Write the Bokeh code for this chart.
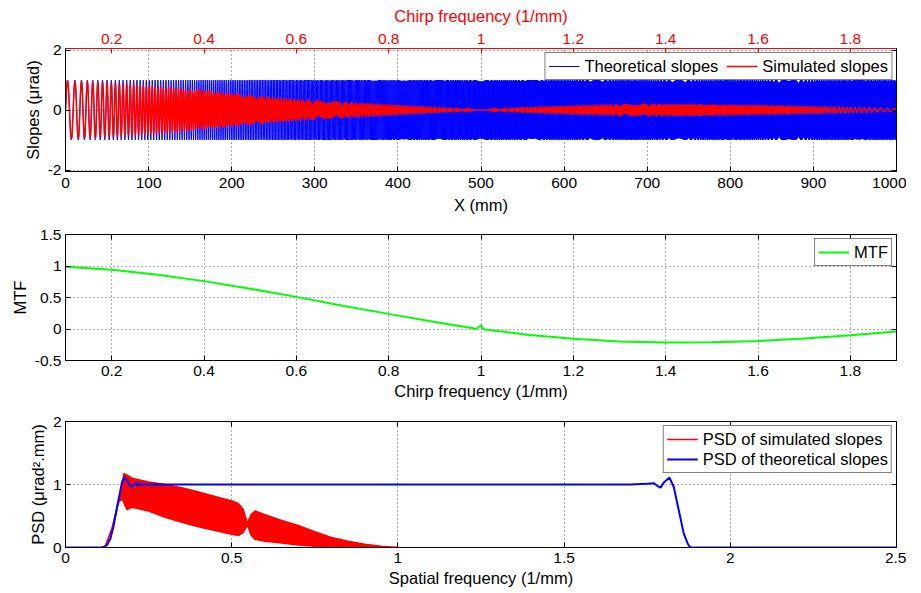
import numpy as np
from bokeh.plotting import figure
from bokeh.models import (Range1d, LinearAxis, FixedTicker, Legend, LegendItem,
                          CustomJSTickFormatter)
from bokeh.layouts import column
from bokeh.embed import file_html
from bokeh.resources import INLINE

# ---------------- data ----------------
# Top panel: chirp slopes along X
x_length_mm = 1000.0
chirp_f_start = 0.1          # 1/mm at X = 0
chirp_f_end = 1.9            # 1/mm at X = 1000
theo_amplitude = 1.0         # urad
theo_step_mm = 0.1
sim_step_mm = 0.5
# envelope (amplitude) of the simulated slopes read along X
sim_env_x = [0, 50, 100, 150, 200, 250, 300, 350, 400, 450, 500,
             550, 600, 650, 700, 750, 800, 850, 900, 950, 1000]
sim_env_amp = [0.98, 0.92, 0.83, 0.72, 0.58, 0.44, 0.33, 0.26, 0.18, 0.10, 0.04,
               0.10, 0.15, 0.19, 0.21, 0.21, 0.18, 0.16, 0.13, 0.09, 0.05]
x_ticks = [0, 100, 200, 300, 400, 500, 600, 700, 800, 900, 1000]
slope_ticks = [-2, 0, 2]
chirp_ticks = [0.2, 0.4, 0.6, 0.8, 1.0, 1.2, 1.4, 1.6, 1.8]

# Middle panel: MTF vs chirp frequency
mtf_freq = [0.1, 0.2, 0.3, 0.4, 0.5, 0.6, 0.7, 0.8, 0.9, 0.99, 1.0, 1.005,
            1.1, 1.2, 1.3, 1.4, 1.5, 1.6, 1.7, 1.8, 1.9]
mtf_val = [0.99, 0.94, 0.86, 0.76, 0.64, 0.51, 0.37, 0.24, 0.11, 0.005, 0.06, -0.003,
           -0.09, -0.155, -0.20, -0.215, -0.21, -0.19, -0.15, -0.10, -0.04]
mtf_ticks = [-0.5, 0, 0.5, 1, 1.5]

# Bottom panel: PSDs vs spatial frequency
psd_theo_f = [0, 0.113, 0.125, 0.135, 0.145, 0.155, 0.163, 0.17, 0.178, 0.19, 0.197,
              0.205, 0.21, 0.218, 0.225, 0.232, 0.24, 0.25, 0.26, 0.28,
              1.70, 1.75, 1.77, 1.78, 1.79, 1.80, 1.817, 1.83, 1.845, 1.86,
              1.872, 1.88, 2.5]
psd_theo_v = [0, 0, 0.04, 0.14, 0.35, 0.64, 0.85, 1.04, 1.12, 1.02, 0.96,
              0.99, 1.03, 0.98, 1.02, 0.99, 1.01, 0.99, 1.005, 1.0,
              1.0, 1.01, 1.02, 0.98, 0.95, 1.03, 1.11, 0.96, 0.59, 0.22,
              0.06, 0.0, 0.0]
psd_sim_f = [0.11, 0.12, 0.14, 0.16, 0.17, 0.175, 0.185, 0.2, 0.25, 0.3, 0.35, 0.4,
             0.45, 0.5, 0.52, 0.535, 0.547, 0.558, 0.57, 0.6, 0.65, 0.7, 0.75,
             0.8, 0.85, 0.9, 0.95, 1.0]
psd_sim_upper = [0, 0.02, 0.3, 0.75, 0.95, 1.17, 1.15, 1.1, 1.04, 1.0, 0.95, 0.88,
                 0.81, 0.74, 0.70, 0.60, 0.38, 0.52, 0.58, 0.52, 0.43, 0.35, 0.25,
                 0.16, 0.1, 0.05, 0.02, 0.0]
psd_sim_lower = [0, 0.02, 0.3, 0.72, 0.78, 0.72, 0.6, 0.64, 0.58, 0.48, 0.4, 0.33,
                 0.27, 0.21, 0.19, 0.24, 0.36, 0.2, 0.13, 0.1, 0.07, 0.04, 0.02,
                 0.01, 0.0, 0.0, 0.0, 0.0]
psd_x_ticks = [0, 0.5, 1, 1.5, 2, 2.5]
psd_y_ticks = [0, 1, 2]

# ---------------- derived signals ----------------
k_rate = (chirp_f_end - chirp_f_start) / x_length_mm
xb = np.arange(0, x_length_mm + theo_step_mm / 2, theo_step_mm)
yb = theo_amplitude * np.sin(2 * np.pi * (chirp_f_start * xb + 0.5 * k_rate * xb ** 2))
xr = np.arange(0, x_length_mm + sim_step_mm / 2, sim_step_mm)
yr = np.interp(xr, sim_env_x, sim_env_amp) * np.sin(
    2 * np.pi * (chirp_f_start * xr + 0.5 * k_rate * xr ** 2))

# ---------------- styling helpers ----------------
FONT = "Liberation Sans"
TICK_FS = "15.5px"
LABEL_FS = "16.5px"
fmt_code = "return (Math.round(tick*100)/100).toString()"


def style_axis(ax, ticks, show_labels=True, color="black", tick_sd=4, label_sd=3):
    ax.ticker = FixedTicker(ticks=ticks)
    ax.major_tick_in = 5
    ax.major_tick_out = 0
    ax.minor_tick_line_color = None
    ax.axis_line_color = color
    ax.major_tick_line_color = color
    ax.major_label_text_color = color
    ax.major_label_text_font = FONT
    ax.major_label_text_font_size = TICK_FS
    ax.major_label_standoff = tick_sd
    ax.axis_label_text_font = FONT
    ax.axis_label_text_font_size = LABEL_FS
    ax.axis_label_text_font_style = "normal"
    ax.axis_label_text_color = color
    ax.axis_label_standoff = label_sd
    if show_labels:
        ax.formatter = CustomJSTickFormatter(code=fmt_code)
    else:
        ax.formatter = CustomJSTickFormatter(code="return ''")
        ax.major_label_standoff = 0
        ax.major_label_text_font_size = "0px"


def make_fig(xr_, yr_, height, top, bottom):
    p = figure(width=906, height=height, x_range=xr_, y_range=yr_,
               output_backend="svg", toolbar_location=None,
               min_border_left=65, min_border_right=10,
               min_border_top=top, min_border_bottom=bottom)
    p.outline_line_color = "black"
    p.outline_line_width = 1
    p.background_fill_color = "white"
    p.border_fill_color = "white"
    for g in (p.xgrid, p.ygrid):
        g.grid_line_color = "#333333"
        g.grid_line_alpha = 0.8
        g.grid_line_dash = "1 3"
        g.grid_line_width = 1
    return p


def style_legend(lg):
    lg.border_line_color = "black"
    lg.border_line_width = 1
    lg.background_fill_color = "white"
    lg.background_fill_alpha = 1
    lg.label_text_font = FONT
    lg.label_text_font_size = LABEL_FS
    lg.label_text_color = "black"
    lg.glyph_width = 31
    lg.label_standoff = 5
    lg.padding = 3
    lg.margin = 4
    lg.location = "top_right"


# ---------------- top panel ----------------
p1 = make_fig(Range1d(0, 1000), Range1d(-2.05, 2.05), 224, 48, 53)
p1.extra_x_ranges = {"chirp": Range1d(chirp_f_start, chirp_f_end)}
style_axis(p1.xaxis[0], x_ticks, tick_sd=6, label_sd=5)
p1.xaxis[0].axis_label = "X (mm)"
style_axis(p1.yaxis[0], slope_ticks)
p1.yaxis[0].axis_label = "Slopes (\u03bcrad)"
top_ax = LinearAxis(x_range_name="chirp", axis_label="Chirp frequency (1/mm)")
style_axis(top_ax, chirp_ticks, color="red", tick_sd=5, label_sd=6)
p1.add_layout(top_ax, "above")
r_ax1 = LinearAxis()
style_axis(r_ax1, slope_ticks, show_labels=False)
p1.add_layout(r_ax1, "right")

rb = p1.line(xb, yb, line_color="#0000ff", line_width=1.0)
rr = p1.line(xr, yr, line_color="#ff0000", line_width=1.5)
lg1 = Legend(items=[LegendItem(label="Theoretical slopes", renderers=[rb]),
                    LegendItem(label="Simulated slopes", renderers=[rr])],
             orientation="horizontal", spacing=8)
style_legend(lg1)
p1.add_layout(lg1)

# ---------------- middle panel ----------------
p2 = make_fig(Range1d(0.1, 1.9), Range1d(-0.5, 1.5), 187, 10, 51)
style_axis(p2.xaxis[0], chirp_ticks, tick_sd=5, label_sd=3)
p2.xaxis[0].axis_label = "Chirp frequency (1/mm)"
style_axis(p2.yaxis[0], mtf_ticks)
p2.yaxis[0].axis_label = "MTF"
a2t = LinearAxis()
style_axis(a2t, chirp_ticks, show_labels=False)
p2.add_layout(a2t, "above")
a2r = LinearAxis()
style_axis(a2r, mtf_ticks, show_labels=False)
p2.add_layout(a2r, "right")
rm = p2.line(mtf_freq, mtf_val, line_color="#00ff00", line_width=2)
lg2 = Legend(items=[LegendItem(label="MTF", renderers=[rm])])
style_legend(lg2)
p2.add_layout(lg2)

# ---------------- bottom panel ----------------
p3 = make_fig(Range1d(0, 2.5), Range1d(0, 2), 180, 10, 44)
style_axis(p3.xaxis[0], psd_x_ticks, tick_sd=5, label_sd=3)
p3.xaxis[0].axis_label = "Spatial frequency (1/mm)"
style_axis(p3.yaxis[0], psd_y_ticks)
p3.yaxis[0].axis_label = "PSD (\u03bcrad\u00b2.mm)"
a3t = LinearAxis()
style_axis(a3t, psd_x_ticks, show_labels=False)
p3.add_layout(a3t, "above")
a3r = LinearAxis()
style_axis(a3r, psd_y_ticks, show_labels=False)
p3.add_layout(a3r, "right")
p3.varea(x=psd_sim_f, y1=psd_sim_lower, y2=psd_sim_upper, fill_color="#ff0000")
rs = p3.line(psd_sim_f, psd_sim_upper, line_color="#ff0000", line_width=1.5)
p3.line(psd_sim_f, psd_sim_lower, line_color="#ff0000", line_width=1.5)
rt = p3.line(psd_theo_f, psd_theo_v, line_color="#0000ff", line_width=2)
lg3 = Legend(items=[LegendItem(label="PSD of simulated slopes", renderers=[rs]),
                    LegendItem(label="PSD of theoretical slopes", renderers=[rt])],
             spacing=0)
style_legend(lg3)
p3.add_layout(lg3)

layout = column(p1, p2, p3, spacing=0)
open("out.html", "w").write(file_html(layout, INLINE))
